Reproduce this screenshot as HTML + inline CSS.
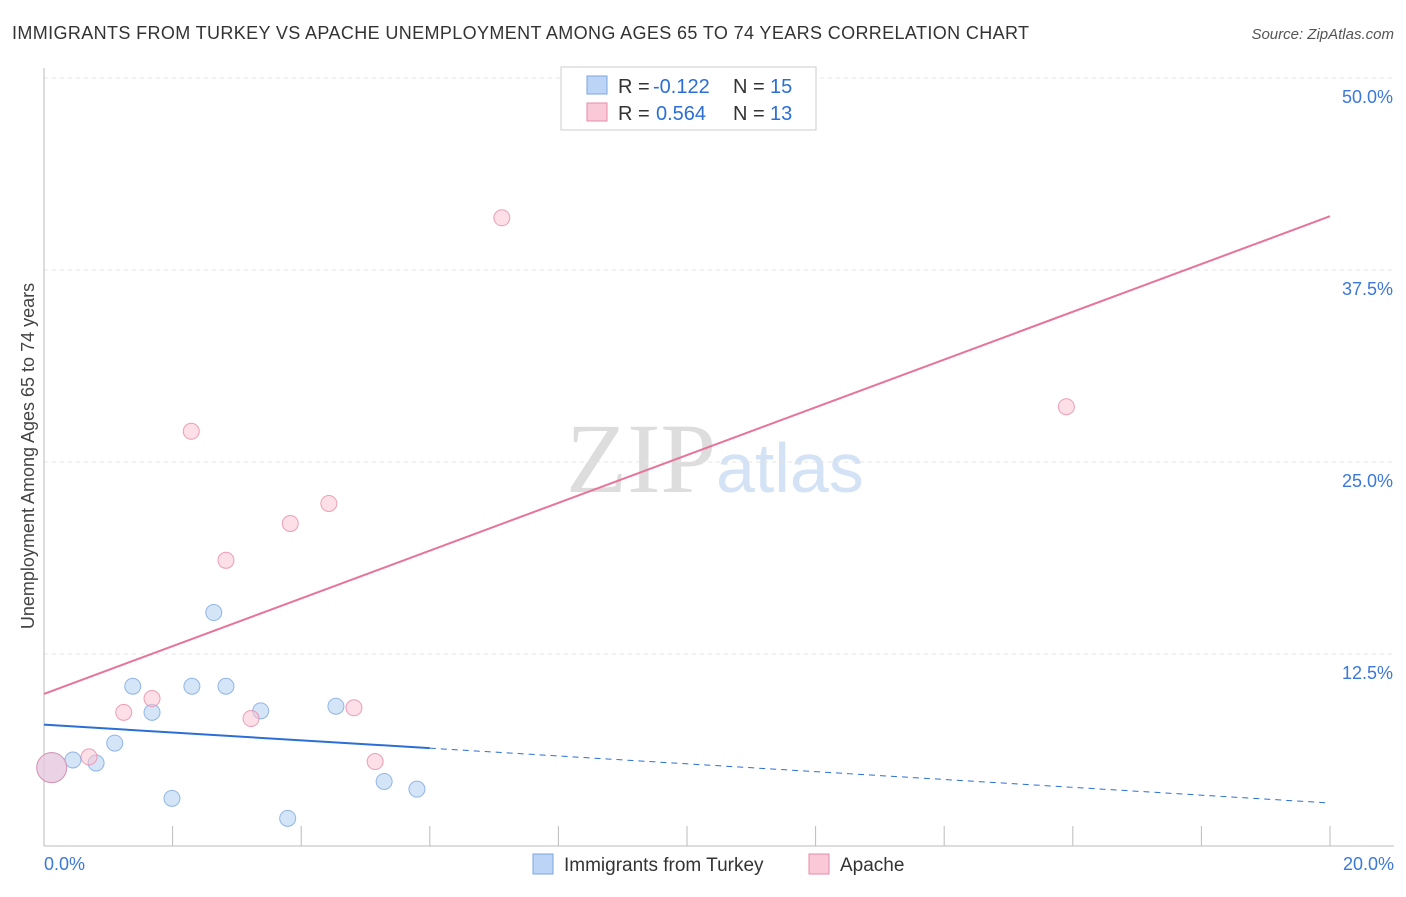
<!DOCTYPE html>
<html><head><meta charset="utf-8"><style>
body{margin:0;background:#fff;font-family:"Liberation Sans",sans-serif;}
</style></head><body>
<svg id="chart" width="1406" height="892" xmlns="http://www.w3.org/2000/svg">
<text x="12" y="39" font-size="18" fill="#333" textLength="1017">IMMIGRANTS FROM TURKEY VS APACHE UNEMPLOYMENT AMONG AGES 65 TO 74 YEARS CORRELATION CHART</text>
<text x="1394" y="39" font-size="15" fill="#555" font-style="italic" text-anchor="end">Source: ZipAtlas.com</text>
<text x="34" y="456" font-size="18" fill="#444" text-anchor="middle" transform="rotate(-90 34 456)">Unemployment Among Ages 65 to 74 years</text>
<text x="716" y="492" font-size="100" fill="#ddd" text-anchor="end" font-family="Liberation Serif,serif">ZIP</text>
<text x="716" y="492" font-size="70" fill="#d4e2f5">atlas</text>
<g id="grid"></g><g id="axes"></g><g id="lines"></g><g id="points"></g>
<g font-size="20">
<rect x="561" y="67" width="255" height="63" fill="#fff" stroke="#ccc"/>
<rect x="587" y="76" width="20" height="18" fill="#bcd4f5" stroke="#7aa6e0"/>
<text x="618" y="93" fill="#333">R =</text><text x="653" y="93" fill="#2b6fd6">-0.122</text>
<text x="733" y="93" fill="#333">N =</text><text x="770" y="93" fill="#2b6fd6">15</text>
<rect x="587" y="103" width="20" height="18" fill="#f9c9d7" stroke="#e88aa8"/>
<text x="618" y="120" fill="#333">R =</text><text x="656" y="120" fill="#2b6fd6">0.564</text>
<text x="733" y="120" fill="#333">N =</text><text x="770" y="120" fill="#2b6fd6">13</text>
</g>
<g>
<rect x="533" y="854" width="20" height="20" fill="#bcd4f5" stroke="#7aa6e0"/>
<text x="564" y="871" font-size="19" fill="#333">Immigrants from Turkey</text>
<rect x="809" y="854" width="20" height="20" fill="#f9c9d7" stroke="#e88aa8"/>
<text x="840" y="871" font-size="19" fill="#333">Apache</text>
</g>
</svg>
<script>
const yTicks=[12.5,25,37.5,50];
const yTickLabels=["12.5%","25.0%","37.5%","50.0%"];
const xTicks=[0,2,4,6,8,10,12,14,16,18,20];
const turkeyX=[0.12,0.45,0.81,1.1,1.38,1.68,1.99,2.3,2.64,2.83,3.37,3.79,4.54,5.29,5.8];
const turkeyY=[5.1,5.6,5.4,6.7,10.4,8.7,3.1,10.4,15.2,10.4,8.8,1.8,9.1,4.2,3.7];
const apacheX=[0.12,0.7,1.24,1.68,2.29,2.83,3.22,3.83,4.43,4.82,5.15,7.12,15.9];
const apacheY=[5.1,5.8,8.7,9.6,27.0,18.6,8.3,21.0,22.3,9.0,5.5,40.9,28.6];
const turkeyTrend=[7.9,2.8];
const apacheTrend=[9.9,41.0];
const NS="http://www.w3.org/2000/svg";
const xs=v=>44+v*(1286/20);
const ys=v=>846-v*(768/50);
function mk(tag,attrs,parent){const e=document.createElementNS(NS,tag);for(const k in attrs)e.setAttribute(k,attrs[k]);document.getElementById(parent).appendChild(e);return e;}
yTicks.forEach((t,i)=>{
 let l=mk('line',{x1:44,x2:1394,y1:ys(t),y2:ys(t),stroke:'#e4e4e4','stroke-dasharray':'4,4'},'grid');
 
 
 let tx=mk('text',{x:1393,y:ys(t)+25,'font-size':18,fill:'#3b78d8','text-anchor':'end'},'grid');
 tx.textContent=yTickLabels[i];
 
 
});
let ax=mk('line',{x1:44,x2:1394,y1:846,y2:846,stroke:'#bbb'},'axes');


let ay=mk('line',{x1:44,x2:44,y1:68,y2:846,stroke:'#bbb'},'axes');


xTicks.forEach(t=>{let l=mk('line',{x1:xs(t),x2:xs(t),y1:826,y2:846,stroke:'#bbb'},'axes');
 
 });
let x0=mk('text',{x:44,y:870,'font-size':18,fill:'#3b78d8'},'axes');x0.textContent='0.0%';


let x1=mk('text',{x:1394,y:870,'font-size':18,fill:'#3b78d8','text-anchor':'end'},'axes');x1.textContent='20.0%';


const tY=v=>turkeyTrend[0]+(turkeyTrend[1]-turkeyTrend[0])*v/20;
let bl=mk('line',{x1:xs(0),y1:ys(tY(0)),x2:xs(6),y2:ys(tY(6)),stroke:'#2b6fd6','stroke-width':2},'lines');


let bd=mk('line',{x1:xs(6),y1:ys(tY(6)),x2:xs(20),y2:ys(tY(20)),stroke:'#2b6fd6','stroke-width':1,'stroke-dasharray':'6,5'},'lines');


let pl=mk('line',{x1:xs(0),y1:ys(apacheTrend[0]),x2:xs(20),y2:ys(apacheTrend[1]),stroke:'#e8739a','stroke-width':2},'lines');


function pts(X,Y,fill,stroke,name){X.forEach((x,i)=>{const r=i===0?15:8;
 let c=mk('circle',{cx:xs(x),cy:ys(Y[i]),r:r,fill:fill,stroke:stroke,'stroke-width':1,'fill-opacity':0.55,'stroke-opacity':0.8},'points');
 
 });}
pts(turkeyX,turkeyY,'#b3cff3','#7aa6e0','turkey-point');
pts(apacheX,apacheY,'#f9c4d4','#e88aa8','apache-point');
</script>
</body></html>
